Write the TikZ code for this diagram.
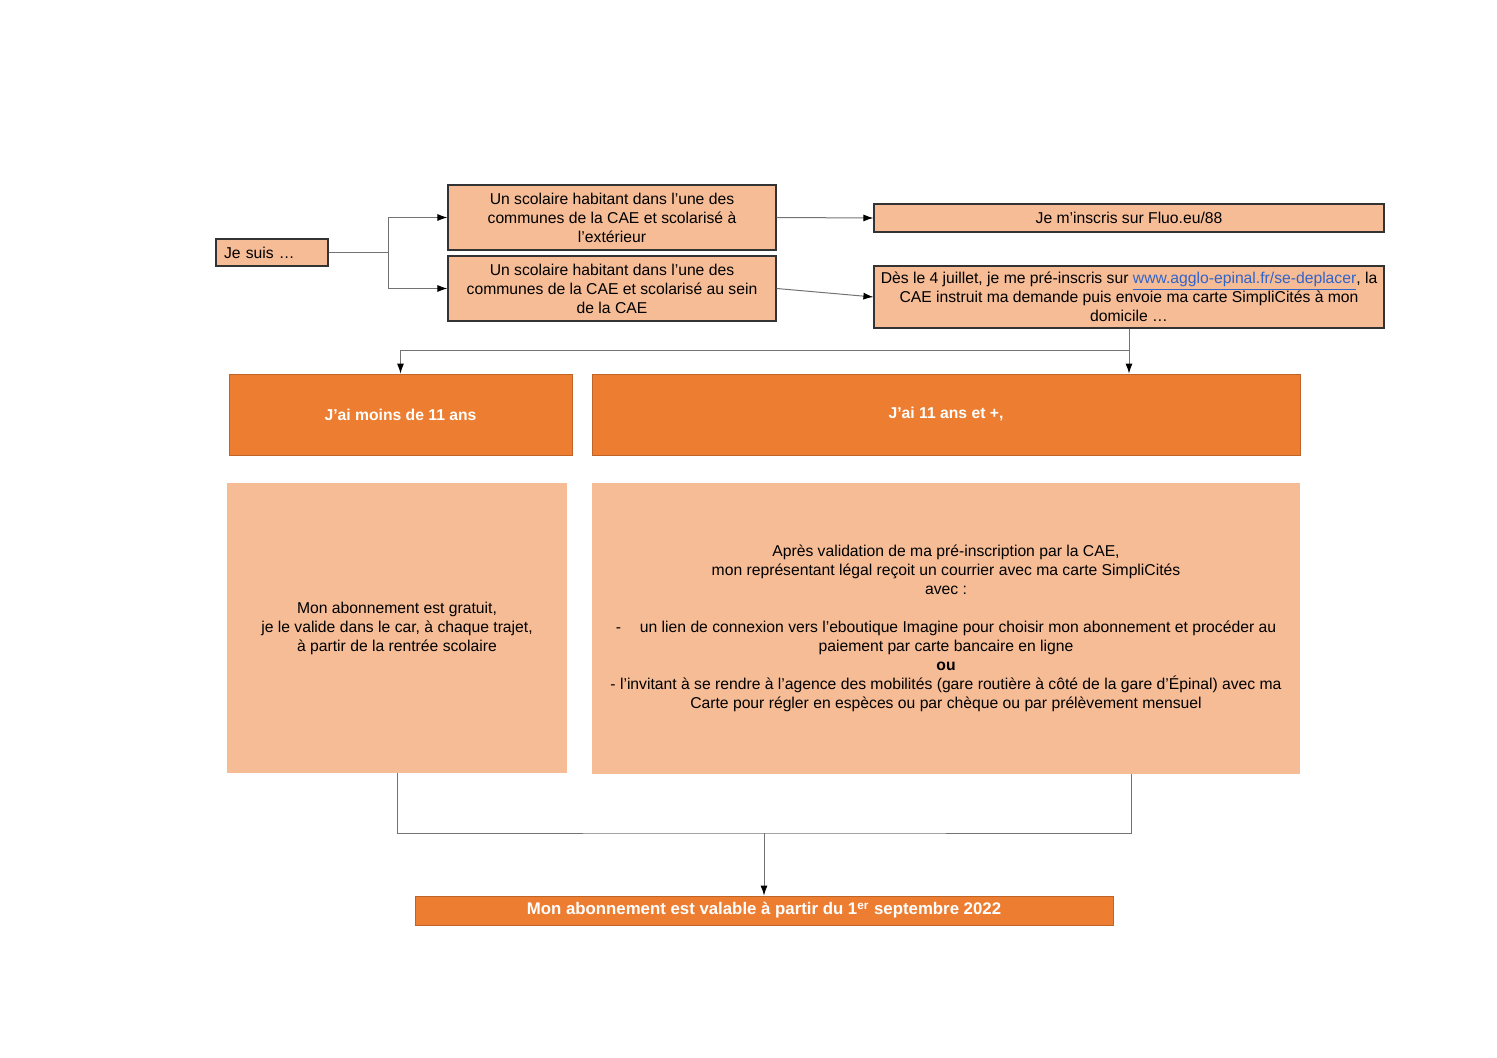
\documentclass[tikz,border=0pt]{standalone}
\usepackage{fontspec}
\setmainfont{Liberation Sans}
\usetikzlibrary{arrows.meta}

\definecolor{paleorange}{RGB}{246,188,150}
\definecolor{darkorange}{RGB}{237,125,49}
\definecolor{linkblue}{RGB}{50,100,200}

\tikzset{
  txt/.style={font=\fontsize{7.85}{9.5}\selectfont},
  smallbox/.style={txt, draw=black!80, line width=0.6pt, fill=paleorange, align=center, inner sep=1pt},
  agebox/.style={draw=darkorange!80!black, line width=0.4pt, fill=darkorange, text=white, font=\fontsize{7.85}{9.5}\selectfont\bfseries, align=center},
  infobox/.style={txt, fill=paleorange, align=center},
  line/.style={draw=black!55, line width=0.5pt},
  arrow/.style={line, -{Latex[length=5pt,width=3.5pt,color=black]}}
}

\begin{document}
\begin{tikzpicture}[x=0.5pt,y=-0.5pt]
    \useasboundingbox (0,0) rectangle (1497,1058);

    % first column
    \node[smallbox, minimum width=56pt, minimum height=13.5pt, text width=48pt, align=left] (je) at (272,252.5) {Je suis \dots};

    \node[smallbox, minimum width=164pt, minimum height=32.5pt] (ext) at (612,217.5)
        {Un scolaire habitant dans l'une des\\ communes de la CAE et scolarisé à\\ l'extérieur};
    \node[smallbox, minimum width=164pt, minimum height=32.5pt] (sein) at (612,288.5)
        {Un scolaire habitant dans l'une des\\ communes de la CAE et scolarisé au sein\\ de la CAE};

    \node[smallbox, minimum width=255pt, minimum height=14pt] (fluo) at (1129,218) {Je m'inscris sur Fluo.eu/88};
    \node[smallbox, minimum width=255pt, minimum height=31pt] (preins) at (1129,297)
        {Dès le 4 juillet, je me pré-inscris sur \textcolor{linkblue}{\underline{www.agglo-epinal.fr/se-deplacer}}, la\\
         CAE instruit ma demande puis envoie ma carte SimpliCités à mon\\ domicile \dots};

    % ages
    \node[agebox, minimum width=171.5pt, minimum height=40.5pt] (moins) at (400.5,414.5) {J'ai moins de 11 ans};
    \node[agebox, minimum width=354pt, minimum height=40.5pt] (plus) at (946,414.5) {J'ai 11 ans et +,};

    \node[infobox, minimum width=170pt, minimum height=145pt] (gratuit) at (397,628)
        {Mon abonnement est gratuit,\\ je le valide dans le car, à chaque trajet,\\ à partir de la rentrée scolaire};
    \node[infobox, minimum width=354pt, minimum height=145.5pt] (courrier) at (946,628.5)
        {Après validation de ma pré-inscription par la CAE,\\
         mon représentant légal reçoit un courrier avec ma carte SimpliCités\\
         avec :\\[9.5pt]
         -\hspace{1.2em}un lien de connexion vers l'eboutique Imagine pour choisir mon abonnement et procéder au\\
         paiement par carte bancaire en ligne\\
         \textbf{ou}\\
         - l'invitant à se rendre à l'agence des mobilités (gare routière à côté de la gare d'Épinal) avec ma\\
         Carte pour régler en espèces ou par chèque ou par prélèvement mensuel};

    \node[agebox, font=\fontsize{8.4}{9.5}\selectfont\bfseries, minimum width=349pt, minimum height=14.5pt, inner sep=0pt] (valable) at (764,910.5)
        {Mon abonnement est valable à partir du 1\textsuperscript{er} septembre 2022};

    % connectors
    \draw[line] (je.east) -- (388,252.5) coordinate (split);
    \draw[arrow] (split) |- (ext.west);
    \draw[arrow] (split) |- (sein.west);
    \draw[arrow] (ext.east) -- (fluo.west);
    \draw[arrow] (sein.east) -- (preins.west);

    \draw[line] (preins.south) -- (1129,351) coordinate (fork);
    \draw[arrow] (fork) -- (fork |- plus.north);
    \draw[arrow] (fork) -| (moins.north);

    \coordinate (join) at (764,833);
    \coordinate (dr) at (1131,774);
    \draw[line] (gratuit.south) |- (join) -| (dr);
    \draw[arrow] (join) -- (valable.north);
\end{tikzpicture}
\end{document}
